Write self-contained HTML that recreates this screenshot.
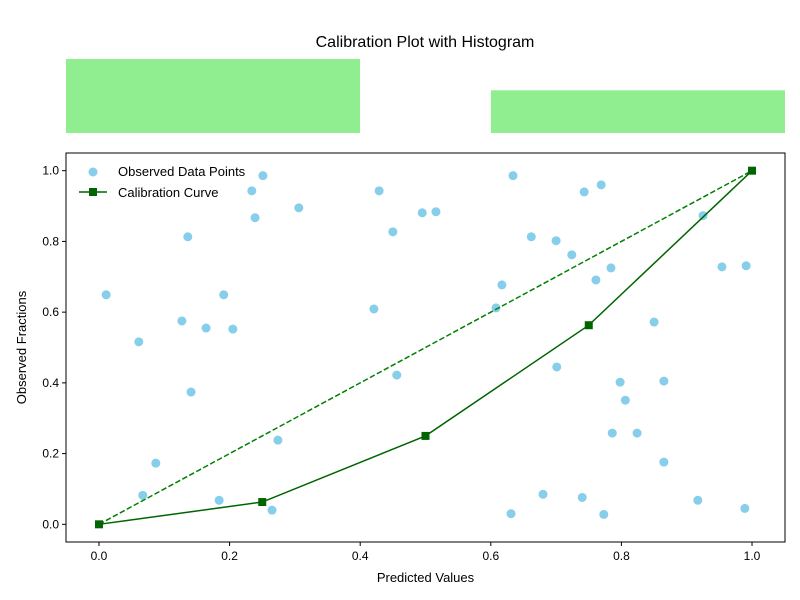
<!DOCTYPE html>
<html><head><meta charset="utf-8"><style>body{margin:0;background:#fff}svg{display:block;font-family:"Liberation Sans",sans-serif}</style></head>
<body>
<svg id="chart" width="800" height="600" viewBox="0 0 800 600">
<rect width="800" height="600" fill="#fff"/>
<text x="425" y="47" font-size="16" text-anchor="middle">Calibration Plot with Histogram</text>
<g id="hist"></g>
<g id="main"></g>
</svg>
<script>
const histBins = [[0, 0.409], [0.591, 1.0]];
const histCounts = [26, 15];
const pointsX = [0.011,0.061,0.067,0.087,0.127,0.136,0.141,0.164,0.184,0.191,0.205,0.234,0.239,0.251,0.265,0.274,0.306,0.421,0.429,0.450,0.456,0.495,0.516,0.608,0.617,0.631,0.634,0.662,0.680,0.700,0.701,0.724,0.740,0.743,0.761,0.769,0.773,0.784,0.786,0.798,0.806,0.824,0.850,0.865,0.865,0.917,0.925,0.954,0.989,0.991];
const pointsY = [0.649,0.516,0.082,0.173,0.575,0.813,0.374,0.555,0.068,0.649,0.552,0.943,0.867,0.986,0.040,0.238,0.895,0.609,0.943,0.827,0.422,0.881,0.884,0.612,0.677,0.030,0.986,0.813,0.085,0.802,0.445,0.762,0.076,0.940,0.691,0.960,0.028,0.725,0.258,0.402,0.351,0.258,0.572,0.405,0.176,0.068,0.873,0.728,0.045,0.731];
const calX = [0, 0.25, 0.5, 0.75, 1.0];
const calY = [0, 0.063, 0.25, 0.563, 1.0];
const xTicks = [0.0, 0.2, 0.4, 0.6, 0.8, 1.0];
const yTicks = [0.0, 0.2, 0.4, 0.6, 0.8, 1.0];

const NS = "http://www.w3.org/2000/svg";
function mk(tag, attrs, parent){const e=document.createElementNS(NS,tag);for(const k in attrs)e.setAttribute(k,attrs[k]);parent.appendChild(e);return e;}
const L=66,R=785,T=153,B=542;
const sx=v=>L+(v+0.0505)/1.101*(R-L);
const sy=v=>B-(v+0.05)/1.1*(B-T);
// histogram
const hg=document.getElementById('hist');
const hx=v=>66+v*(785-66);
const hy=c=>133-c/26*74;
histBins.forEach((b,i)=>{
  const r=mk('rect',{x:hx(b[0]),y:hy(histCounts[i]),width:hx(b[1])-hx(b[0]),height:133-hy(histCounts[i]),fill:'#90ee90'},hg);
  
  
});
const g=document.getElementById('main');
// ticks
xTicks.forEach(t=>{
  const x=sx(t);
  const l=mk('line',{x1:x,x2:x,y1:B,y2:B+4,stroke:'#000'},g);
  
  const tx=mk('text',{x:x,y:B+18,'font-size':12,'text-anchor':'middle'},g);tx.textContent=t.toFixed(1);
  
});
yTicks.forEach(t=>{
  const y=sy(t);
  const l=mk('line',{x1:L-4,x2:L,y1:y,y2:y,stroke:'#000'},g);
  
  const tx=mk('text',{x:L-7,y:y+4,'font-size':12,'text-anchor':'end'},g);tx.textContent=t.toFixed(1);
  
});
// points
pointsX.forEach((v,i)=>{
  const c=mk('circle',{cx:sx(v),cy:sy(pointsY[i]),r:4.5,fill:'#87ceeb'},g);
  
});
// diagonal
const d=mk('line',{x1:sx(0),y1:sy(0),x2:sx(1),y2:sy(1),stroke:'#008000','stroke-width':1.5,'stroke-dasharray':'5.5,2.4'},g);

const p=mk('polyline',{points:calX.map((v,i)=>sx(v)+','+sy(calY[i])).join(' '),fill:'none',stroke:'#006400','stroke-width':1.5},g);

calX.forEach((v,i)=>{
  const m=mk('rect',{x:sx(v)-4,y:sy(calY[i])-4,width:8,height:8,fill:'#006400'},g);
  
});
const fr=mk('rect',{x:L,y:T,width:R-L,height:B-T,fill:'none',stroke:'#000','stroke-width':1},g);

// legend
const lg=mk('g',{},g);

mk('circle',{cx:93,cy:172,r:4.5,fill:'#87ceeb'},lg);
let t1=mk('text',{x:118,y:176,'font-size':13},lg);t1.textContent='Observed Data Points';

mk('line',{x1:79,x2:107,y1:192,y2:192,stroke:'#006400','stroke-width':1.5},lg);
mk('rect',{x:89,y:188,width:8,height:8,fill:'#006400'},lg);
let t2=mk('text',{x:118,y:197,'font-size':13},lg);t2.textContent='Calibration Curve';

// axis titles
let xt=mk('text',{x:(L+R)/2,y:582,'font-size':13,'text-anchor':'middle'},g);xt.textContent='Predicted Values';

let yt=mk('text',{x:0,y:0,'font-size':13,'text-anchor':'middle',transform:'translate(26,'+((T+B)/2)+') rotate(-90)'},g);yt.textContent='Observed Fractions';

</script>
</body></html>
